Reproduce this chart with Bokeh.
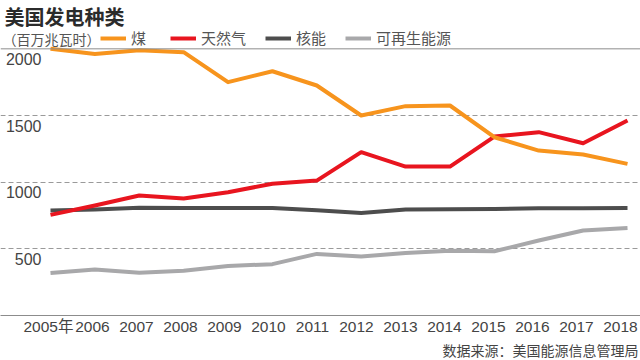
from bokeh.plotting import figure
from bokeh.models import (Range1d, FixedTicker, Grid, Span, Label, Legend,
                          LegendItem, ColumnDataSource, LinearAxis, Title)
from bokeh.core.properties import value
from bokeh.embed import file_html
from bokeh.resources import INLINE

# ---------------- data ----------------
years = list(range(2005, 2019))
year_labels = ["2005年", "2006", "2007", "2008", "2009", "2010", "2011",
               "2012", "2013", "2014", "2015", "2016", "2017", "2018"]
coal = [2000, 1962, 1990, 1975, 1750, 1832, 1725, 1500, 1570, 1575, 1337, 1237, 1207, 1137]
gas = [755, 825, 900, 877, 925, 988, 1012, 1225, 1117, 1117, 1342, 1375, 1292, 1462]
nuclear = [787, 795, 808, 807, 807, 807, 790, 768, 795, 797, 798, 805, 805, 807]
renewable = [318, 345, 320, 335, 372, 385, 462, 442, 468, 485, 482, 562, 637, 657]
series_names = ["煤", "天然气", "核能", "可再生能源"]
y_ticks = [500, 1000, 1500, 2000]
y_tick_labels = ["500", "1000", "1500", "2000"]

title_text = "美国发电种类"
unit_text = "（百万兆瓦时）"
source_text = "数据来源：美国能源信息管理局"

# ---------------- styles / layout ----------------
colors = ["#F7941D", "#E8151F", "#4D4D4D", "#A8A8AA"]
CJK = "Noto Sans CJK SC"
NUM = "Liberation Sans, Noto Sans CJK SC"

FW, FH = 640, 315
PX_PER_YEAR = 44.385
X0_PX = 50.0
LAB_PX_PER_YEAR = 44.0
LAB_X0_PX = 48.0
UNITS_PER_PX = 7.5
x_start = years[0] - X0_PX / PX_PER_YEAR
x_end = x_start + FW / PX_PER_YEAR
lab_start = years[0] - LAB_X0_PX / LAB_PX_PER_YEAR
lab_end = lab_start + FW / LAB_PX_PER_YEAR
y_end = FH * UNITS_PER_PX


def xd(px):
    return x_start + px / PX_PER_YEAR


def yd(py):
    return (FH - py) * UNITS_PER_PX


p = figure(frame_width=FW, frame_height=FH, output_backend="svg",
           toolbar_location=None,
           x_range=Range1d(x_start, x_end), y_range=Range1d(0, y_end),
           x_axis_location=None, y_axis_location=None,
           min_border=0, outline_line_color=None,
           background_fill_color="white", border_fill_color="white")
p.extra_x_ranges = {"lab": Range1d(lab_start, lab_end)}
p.grid.visible = False

grid = Grid(dimension=1, ticker=FixedTicker(ticks=y_ticks[:3]),
            grid_line_color="#9a9a9a", grid_line_dash="5 3", grid_line_width=1)
p.add_layout(grid)
p.add_layout(Span(location=y_ticks[3], dimension="width",
                  line_color="#8c8c8c", line_width=1))

src = ColumnDataSource(dict(x=years, coal=coal, gas=gas, nuclear=nuclear,
                            renewable=renewable))
renderers = []
for key, c in zip(["renewable", "nuclear", "gas", "coal"], colors[::-1]):
    r = p.line("x", key, source=src, line_color=c, line_width=4,
               line_join="round")
    renderers.append(r)
renderers = renderers[::-1]

legend = Legend(items=[LegendItem(label=n, renderers=[r])
                       for n, r in zip(series_names, renderers)],
                orientation="horizontal", location=(100, 267),
                glyph_width=26, glyph_height=20, label_height=20,
                label_standoff=5, spacing=19, padding=0, margin=0,
                border_line_alpha=0, background_fill_alpha=0,
                label_text_font=CJK, label_text_font_size="15px",
                label_text_color="#555555")
p.add_layout(legend)

ysrc = ColumnDataSource(dict(x=[xd(41)] * len(y_ticks), y=y_ticks,
                             t=y_tick_labels))
p.text(x="x", y="y", text="t", source=ysrc, text_align="right",
       text_baseline="top", y_offset=4, text_font=value(NUM),
       text_font_size=value("16px"), text_color="#444444")

xaxis = LinearAxis(x_range_name="lab", ticker=FixedTicker(ticks=years),
                   major_label_overrides={y: l for y, l in zip(years, year_labels)},
                   major_tick_line_color=None, minor_tick_line_color=None,
                   major_tick_out=0, major_tick_in=0, major_label_standoff=2,
                   axis_line_color="#8c8c8c",
                   major_label_text_font=NUM,
                   major_label_text_font_size="15.5px",
                   major_label_text_color="#444444")
p.add_layout(xaxis, "below")

p.add_layout(Title(text=source_text, align="right", offset=2, standoff=0,
                   text_font=CJK, text_font_size="14px",
                   text_font_style="normal", text_color="#444444"), "below")

p.add_layout(Label(x=xd(4), y=yd(1), text=title_text, text_baseline="top",
                   text_font=CJK, text_font_size="20px",
                   text_color="#2b2b2b", text_font_style="bold"))
p.add_layout(Label(x=xd(2), y=yd(38), text=unit_text, text_baseline="middle",
                   text_font=CJK, text_font_size="14px", text_color="#555555"))

open("out.html", "w").write(file_html(p, INLINE))
